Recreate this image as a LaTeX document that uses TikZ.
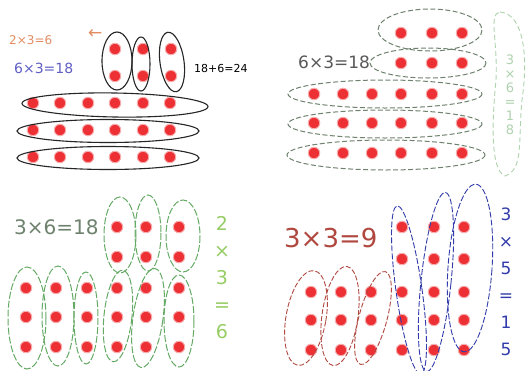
\documentclass[tikz,border=0pt]{standalone}
\usepackage{fontspec}
\setmainfont{DejaVu Sans}
\definecolor{dotred}{RGB}{236,48,52}
\definecolor{qorange}{RGB}{226,140,96}
\definecolor{qblue}{RGB}{96,96,196}
\definecolor{qgreen}{RGB}{100,170,100}
\definecolor{qgray}{RGB}{110,130,110}
\definecolor{qlgreen}{RGB}{150,205,100}
\definecolor{qfaint}{RGB}{175,210,175}
\definecolor{qred}{RGB}{176,72,64}
\definecolor{qdblue}{RGB}{50,60,170}
\tikzset{
  dot/.style={circle,fill=dotred,draw=dotred!40,line width=1pt,inner sep=0pt,minimum size=11.5pt},
  blackloop/.style={draw=black!85,line width=1.1pt},
  greendash/.style={draw=qgray,line width=1pt,dash pattern=on 5pt off 2.5pt},
  greenloop/.style={draw=qgreen,line width=1pt,dash pattern=on 7pt off 2pt},
  redloop/.style={draw=qred,line width=0.9pt,dash pattern=on 5pt off 2pt},
  blueloop/.style={draw=qdblue,line width=0.9pt,dash pattern=on 6pt off 2pt},
  hand/.style={inner sep=0pt,font=\fontsize{10}{10}\selectfont},
  stack/.style={inner sep=0pt,align=center}
}
\begin{document}
\begin{tikzpicture}[x=1pt,y=-1pt]
\useasboundingbox (0,0) rectangle (528,370);
\fill[white] (0,0) rectangle (528,370);
% ---------- Quadrant 1 ----------
\foreach \x [count=\i] in {115,143,171}{
  \foreach \y [count=\j] in {49,76}{\node[dot] (a-t-\i-\j) at (\x,\y) {};}}
\foreach \x [count=\i] in {33,60,88,115,143,170}{
  \foreach \y [count=\j] in {103,130,157}{\node[dot] (a-b-\i-\j) at (\x,\y) {};}}
\draw[blackloop] (117,61) ellipse [x radius=15, y radius=29];
\draw[blackloop] (141,64) ellipse [x radius=9, y radius=27];
\draw[blackloop,rotate around={8:(172,62)}] (172,62) ellipse [x radius=12, y radius=30];
\draw[blackloop,rotate around={-1:(115,105)}] (115,105) ellipse [x radius=93, y radius=12];
\draw[blackloop] (108,131) ellipse [x radius=91, y radius=11.5];
\draw[blackloop] (108,158) ellipse [x radius=91, y radius=11.5];
\node[hand,text=qorange,anchor=west,font=\fontsize{12}{12}\selectfont] (t1) at (9,40) {2×3=6};
\node[hand,text=qorange,anchor=west,font=\fontsize{17}{17}\selectfont] (t1a) at (88,34) {←};
\node[hand,text=qblue,anchor=west,font=\fontsize{14}{14}\selectfont] (t2) at (14,68) {6×3=18};
\node[hand,text=black,anchor=west,font=\fontsize{11}{11}\selectfont] (t3) at (194,68) {18+6=24};
% ---------- Quadrant 2 ----------
\foreach \x [count=\i] in {401,432,462}{
  \foreach \y [count=\j] in {33,63}{\node[dot] (b-t-\i-\j) at (\x,\y) {};}}
\foreach \x [count=\i] in {314,343,372,401,432,462}{
  \foreach \y [count=\j] in {94,123,153}{\node[dot] (b-b-\i-\j) at (\x,\y) {};}}
\draw[greendash] (430,30) ellipse [x radius=52, y radius=21];
\draw[greendash] (428,63) ellipse [x radius=58, y radius=15];
\draw[greendash] (385,94) ellipse [x radius=97, y radius=14];
\draw[greendash] (385,124) ellipse [x radius=97, y radius=14];
\draw[greendash] (386,155) ellipse [x radius=99, y radius=15];
\draw[draw=qfaint,line width=0.9pt,dash pattern=on 5pt off 3pt]
  (500,12) .. controls (525,14) and (528,60) .. (522,100)
  .. controls (518,140) and (524,170) .. (505,176)
  .. controls (490,170) and (492,120) .. (496,80)
  .. controls (498,40) and (488,14) .. (500,12);
\node[hand,text=black!65,anchor=west,font=\fontsize{17}{17}\selectfont] (t4) at (298,62) {6×3=18};
\node[stack,text=qfaint,font=\fontsize{13}{14}\selectfont] (t5) at (510,95) {3\\×\\6\\=\\1\\8};
% ---------- Quadrant 3 ----------
\foreach \x [count=\i] in {117,146,179}{
  \foreach \y [count=\j] in {227,257}{\node[dot] (c-t-\i-\j) at (\x,\y) {};}}
\foreach \x [count=\i] in {26,56,87,117,146,179}{
  \foreach \y [count=\j] in {288,317,347}{\node[dot] (c-b-\i-\j) at (\x,\y) {};}}
\draw[greenloop] (120,235) ellipse [x radius=16, y radius=38];
\draw[greenloop] (148,233) ellipse [x radius=13, y radius=38];
\draw[greenloop] (183,236) ellipse [x radius=17, y radius=36];
\draw[greenloop] (27,318) ellipse [x radius=19, y radius=51];
\draw[greenloop] (58,316) ellipse [x radius=16, y radius=50];
\draw[greenloop] (86,318) ellipse [x radius=12, y radius=46];
\draw[greenloop,rotate around={-6:(118,316)}] (118,316) ellipse [x radius=14, y radius=46];
\draw[greenloop,rotate around={-8:(148,318)}] (148,318) ellipse [x radius=15, y radius=50];
\draw[greenloop] (179,321) ellipse [x radius=15, y radius=46];
\node[hand,text=qgray,anchor=west,font=\fontsize{20}{20}\selectfont] (t6) at (14,227) {3×6=18};
\node[stack,text=qlgreen,font=\fontsize{19}{27}\selectfont] (t7) at (222,278) {2\\×\\3\\=\\6};
% ---------- Quadrant 4 ----------
\foreach \x [count=\i] in {311,341,371}{
  \foreach \y [count=\j] in {292,320,350}{\node[dot] (d-l-\i-\j) at (\x,\y) {};}}
\foreach \x [count=\i] in {402,434,464}{
  \foreach \y [count=\j] in {227,259,292,320,350}{\node[dot] (d-r-\i-\j) at (\x,\y) {};}}
\draw[redloop,rotate around={-10:(306,318)}] (306,318) ellipse [x radius=20, y radius=48];
\draw[redloop,rotate around={-8:(340,316)}] (340,316) ellipse [x radius=18, y radius=50];
\draw[redloop,rotate around={-15:(373,318)}] (373,318) ellipse [x radius=14, y radius=48];
\draw[blueloop,rotate around={8:(409,290)}] (409,290) ellipse [x radius=13, y radius=85];
\draw[blueloop,rotate around={-6:(436,282)}] (436,282) ellipse [x radius=15, y radius=90];
\draw[blueloop,rotate around={-4:(470,268)}] (470,268) ellipse [x radius=22, y radius=84];
\node[hand,text=qred,anchor=west,font=\fontsize{26}{26}\selectfont] (t8) at (284,238) {3×3=9};
\node[stack,text=qdblue,font=\fontsize{17}{27}\selectfont] (t9) at (506,282) {3\\×\\5\\=\\1\\5};
\end{tikzpicture}
\end{document}
